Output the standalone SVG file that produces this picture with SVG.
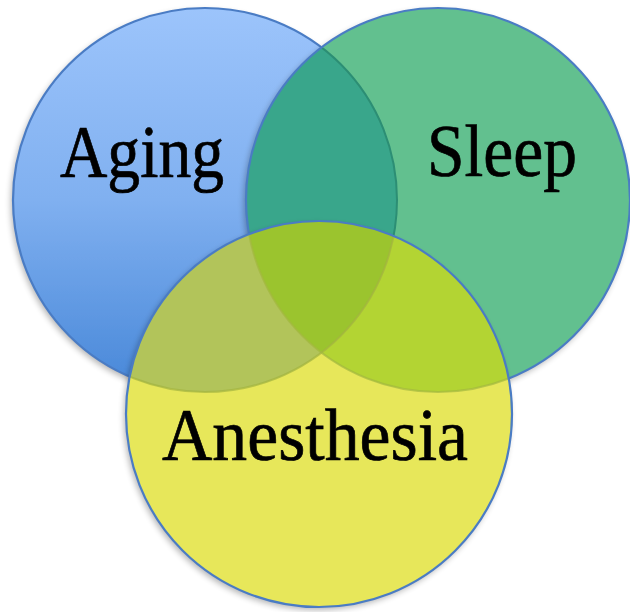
<svg xmlns="http://www.w3.org/2000/svg" width="630" height="612" viewBox="0 0 630 612">
  <defs>
    <linearGradient id="agingGrad" x1="0" y1="0" x2="0" y2="1">
      <stop offset="0" stop-color="#9cc4fb"/>
      <stop offset="0.5" stop-color="#80b0f0"/>
      <stop offset="1" stop-color="#4787d8"/>
    </linearGradient>
    <filter id="shadow" x="-10%" y="-10%" width="125%" height="125%">
      <feGaussianBlur in="SourceAlpha" stdDeviation="3"/>
      <feOffset dx="-2" dy="3" result="b"/>
      <feComponentTransfer><feFuncA type="linear" slope="0.3"/></feComponentTransfer>
      <feMerge><feMergeNode/><feMergeNode in="SourceGraphic"/></feMerge>
    </filter>
    <clipPath id="clipAging"><circle cx="205" cy="200" r="192"/></clipPath>
    <clipPath id="clipSleep"><circle cx="438" cy="200" r="192"/></clipPath>
    <clipPath id="clipAnes"><circle cx="319" cy="414" r="193"/></clipPath>
  </defs>
  <style>
    .edge { fill: none; stroke: #4a7cc4; stroke-width: 2.2; }
    .inner { fill: none; stroke-width: 2; }
    .label { font-family: "Liberation Serif", "Times New Roman", serif; font-size: 74px; fill: #000; stroke: #000; stroke-width: 0.7; }
  </style>

  <g id="aging">
    <circle cx="205" cy="200" r="192" fill="url(#agingGrad)" filter="url(#shadow)"/>
    <circle class="edge" cx="205" cy="200" r="192"/>
  </g>
  <g id="sleep">
    <circle cx="438" cy="200" r="192" fill="#62c08f" filter="url(#shadow)"/>
    <g clip-path="url(#clipAging)">
      <circle cx="438" cy="200" r="192" fill="#39a68b"/>
    </g>
    <g clip-path="url(#clipSleep)">
      <circle cx="205" cy="200" r="192" class="inner" stroke="#2c8e74"/>
    </g>
    <circle class="edge" cx="438" cy="200" r="192"/>
  </g>
  <g id="anesthesia">
    <circle cx="319" cy="414" r="193" fill="#e7e75a" filter="url(#shadow)"/>
    <g clip-path="url(#clipAnes)">
      <circle cx="205" cy="200" r="192" fill="#b2c45a"/>
      <circle cx="438" cy="200" r="192" fill="#b3d433"/>
      <g clip-path="url(#clipAging)">
        <circle cx="438" cy="200" r="192" fill="#9bc42e"/>
      </g>
      <circle cx="205" cy="200" r="192" class="inner" stroke="#a3b440" opacity="0.7"/>
      <circle cx="438" cy="200" r="192" class="inner" stroke="#a3b840" opacity="0.7"/>
    </g>
    <circle class="edge" cx="319" cy="414" r="193"/>
  </g>
  <g id="labels">
    <text class="label" x="60" y="177" textLength="164" lengthAdjust="spacingAndGlyphs">Aging</text>
    <text class="label" x="427" y="176" textLength="150" lengthAdjust="spacingAndGlyphs">Sleep</text>
    <text class="label" x="162" y="460" textLength="306" lengthAdjust="spacingAndGlyphs">Anesthesia</text>
  </g>
</svg>
